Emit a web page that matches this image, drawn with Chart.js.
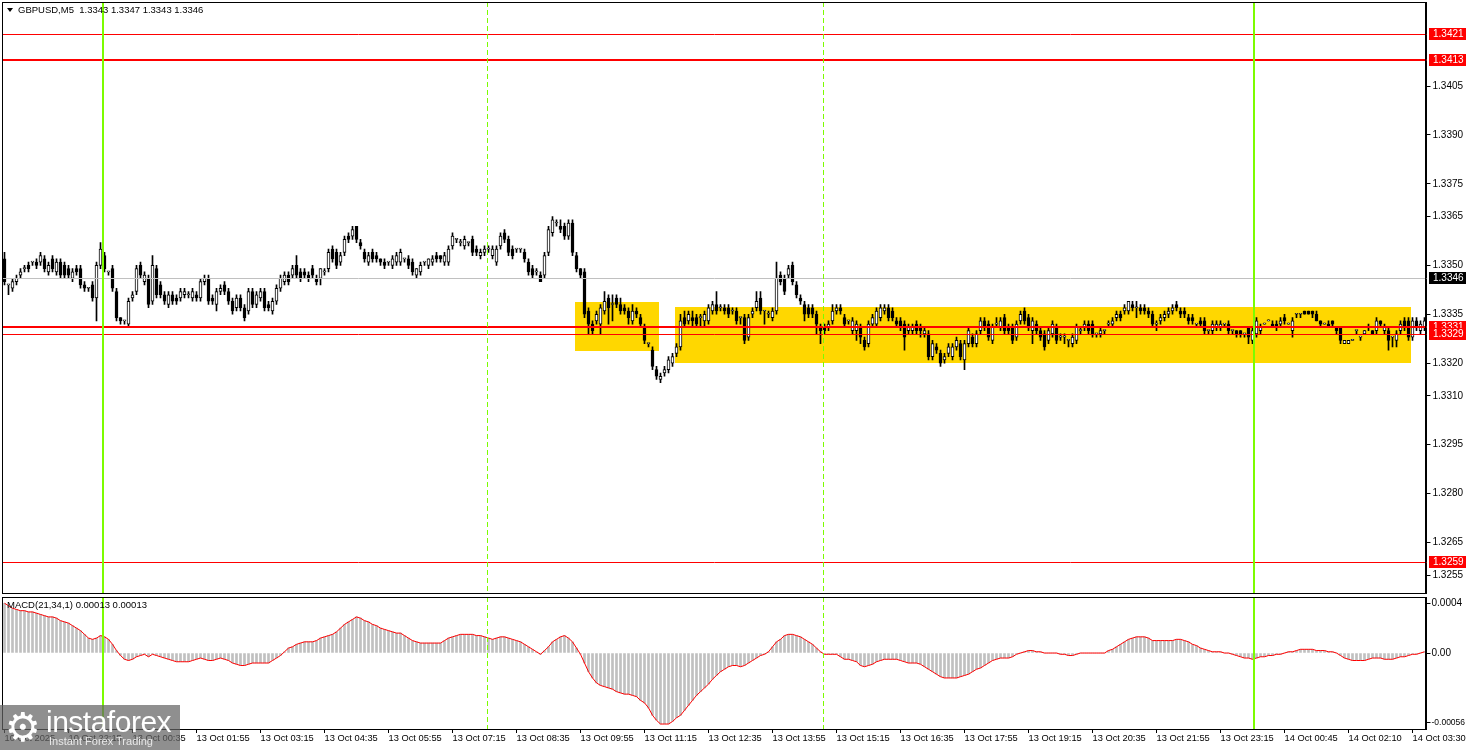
<!DOCTYPE html>
<html>
<head>
<meta charset="utf-8">
<script src="https://cdn.jsdelivr.net/npm/chart.js@4.4.1/dist/chart.umd.min.js"></script>
<style>
  html, body { margin: 0; padding: 0; background: #fff; }
  #wrap { position: relative; width: 1468px; height: 750px; overflow: hidden; }
  #priceChart { position: absolute; left: 0; top: 0; }
  #macdChart { position: absolute; left: 0; top: 595px; }
  #logo { position: absolute; left: 0; top: 705px; width: 180px; height: 45px; background: rgba(100,100,100,0.72); color: #fff; font-family: "Liberation Sans", Arial, sans-serif; }
  #logo .gear { position: absolute; left: 5px; top: 0px; font-size: 40px; line-height: 44px; font-family: "DejaVu Sans", sans-serif; }
  #logo .brand { position: absolute; left: 46px; top: 1px; font-size: 30px; line-height: 32px; letter-spacing: -0.5px; }
  #logo .tag { position: absolute; left: 49px; top: 30px; font-size: 11px; line-height: 13px; color: #e8e8e8; }
</style>
</head>
<body>
<div id="wrap">
  <canvas id="priceChart" width="1468" height="595"></canvas>
  <canvas id="macdChart" width="1468" height="155"></canvas>
  <div id="logo"><span class="gear">&#9881;</span><span class="brand">instaforex</span><span class="tag">Instant Forex Trading</span></div>
</div>
<script>
// GBPUSD M5 candles (one entry per bar)
const opens = [
  1.3352,1.3344,1.3343,1.3345,1.3347,1.3349,1.3350,1.3351,1.3351,1.3351,
  1.3352,1.3348,1.3352,1.3348,1.3351,1.3350,1.3349,1.3346,1.3349,1.3349,
  1.3344,1.3343,1.3344,1.3340,1.3350,1.3353,1.3348,1.3349,1.3342,1.3334,
  1.3333,1.3332,1.3340,1.3342,1.3350,1.3345,1.3346,1.3339,1.3349,1.3344,
  1.3341,1.3338,1.3341,1.3340,1.3340,1.3341,1.3341,1.3340,1.3341,1.3340,
  1.3345,1.3346,1.3340,1.3338,1.3342,1.3344,1.3342,1.3339,1.3337,1.3340,
  1.3337,1.3336,1.3342,1.3338,1.3340,1.3342,1.3338,1.3336,1.3339,1.3343,
  1.3345,1.3347,1.3347,1.3350,1.3348,1.3348,1.3347,1.3349,1.3346,1.3346,
  1.3348,1.3349,1.3355,1.3354,1.3351,1.3354,1.3359,1.3359,1.3362,1.3357,
  1.3354,1.3351,1.3354,1.3353,1.3352,1.3351,1.3351,1.3350,1.3351,1.3351,
  1.3352,1.3352,1.3351,1.3347,1.3348,1.3351,1.3350,1.3351,1.3353,1.3353,
  1.3351,1.3351,1.3356,1.3358,1.3357,1.3356,1.3357,1.3358,1.3355,1.3353,
  1.3354,1.3355,1.3353,1.3351,1.3356,1.3360,1.3358,1.3355,1.3355,1.3355,
  1.3354,1.3351,1.3349,1.3348,1.3347,1.3347,1.3354,1.3360,1.3363,1.3362,
  1.3362,1.3359,1.3363,1.3353,1.3349,1.3348,1.3336,1.3332,1.3333,1.3332,
  1.3336,1.3340,1.3338,1.3340,1.3338,1.3337,1.3336,1.3333,1.3336,1.3334,
  1.3331,1.3326,1.3324,1.3318,1.3315,1.3317,1.3318,1.3320,1.3323,1.3325,
  1.3334,1.3333,1.3334,1.3334,1.3334,1.3333,1.3333,1.3336,1.3338,1.3337,
  1.3337,1.3337,1.3336,1.3336,1.3334,1.3334,1.3328,1.3335,1.3337,1.3340,
  1.3336,1.3335,1.3334,1.3336,1.3347,1.3346,1.3347,1.3350,1.3344,1.3340,
  1.3338,1.3337,1.3337,1.3335,1.3331,1.3331,1.3331,1.3333,1.3336,1.3337,
  1.3334,1.3333,1.3330,1.3330,1.3331,1.3327,1.3326,1.3332,1.3332,1.3334,
  1.3336,1.3337,1.3336,1.3333,1.3333,1.3332,1.3330,1.3330,1.3332,1.3331,
  1.3329,1.3329,1.3322,1.3325,1.3323,1.3321,1.3323,1.3322,1.3325,1.3326,
  1.3321,1.3326,1.3328,1.3326,1.3330,1.3333,1.3332,1.3327,1.3332,1.3331,
  1.3334,1.3331,1.3331,1.3328,1.3333,1.3336,1.3334,1.3330,1.3332,1.3330,
  1.3329,1.3327,1.3329,1.3331,1.3328,1.3328,1.3327,1.3326,1.3327,1.3330,
  1.3331,1.3332,1.3332,1.3329,1.3329,1.3330,1.3332,1.3332,1.3334,1.3335,
  1.3336,1.3336,1.3338,1.3337,1.3337,1.3337,1.3336,1.3335,1.3332,1.3333,
  1.3334,1.3335,1.3336,1.3338,1.3336,1.3336,1.3334,1.3334,1.3332,1.3333,
  1.3333,1.3330,1.3330,1.3331,1.3331,1.3332,1.3332,1.3330,1.3330,1.3330,
  1.3329,1.3331,1.3327,1.3329,1.3330,1.3332,1.3333,1.3332,1.3332,1.3332,
  1.3334,1.3332,1.3330,1.3335,1.3335,1.3336,1.3336,1.3336,1.3335,1.3333,
  1.3332,1.3332,1.3333,1.3331,1.3331,1.3326,1.3326,1.3327,1.3330,1.3328,
  1.3329,1.3331,1.3330,1.3330,1.3333,1.3330,1.3330,1.3328,1.3327,1.3330,
  1.3333,1.3333,1.3328,1.3333,1.3330,1.3331
];
const highs = [
  1.3354,1.3344,1.3346,1.3347,1.3349,1.3350,1.3351,1.3351,1.3352,1.3354,
  1.3353,1.3351,1.3353,1.3352,1.3352,1.3351,1.3350,1.3349,1.3350,1.3350,
  1.3345,1.3343,1.3345,1.3351,1.3357,1.3354,1.3348,1.3350,1.3343,1.3334,
  1.3333,1.3340,1.3342,1.3350,1.3351,1.3348,1.3347,1.3353,1.3350,1.3345,
  1.3342,1.3342,1.3342,1.3341,1.3343,1.3343,1.3342,1.3343,1.3342,1.3346,
  1.3347,1.3347,1.3341,1.3343,1.3344,1.3345,1.3343,1.3340,1.3341,1.3341,
  1.3338,1.3343,1.3343,1.3342,1.3343,1.3343,1.3339,1.3340,1.3344,1.3347,
  1.3348,1.3348,1.3350,1.3353,1.3349,1.3349,1.3348,1.3350,1.3347,1.3349,
  1.3349,1.3355,1.3356,1.3355,1.3354,1.3359,1.3360,1.3362,1.3362,1.3358,
  1.3355,1.3354,1.3355,1.3354,1.3352,1.3352,1.3351,1.3353,1.3354,1.3355,
  1.3352,1.3353,1.3352,1.3349,1.3351,1.3351,1.3352,1.3353,1.3354,1.3353,
  1.3354,1.3356,1.3360,1.3358,1.3358,1.3359,1.3357,1.3359,1.3356,1.3355,
  1.3356,1.3356,1.3356,1.3356,1.3360,1.3361,1.3359,1.3356,1.3355,1.3355,
  1.3355,1.3352,1.3350,1.3349,1.3348,1.3354,1.3362,1.3365,1.3364,1.3364,
  1.3363,1.3364,1.3364,1.3354,1.3349,1.3349,1.3337,1.3333,1.3336,1.3338,
  1.3342,1.3341,1.3341,1.3341,1.3340,1.3338,1.3337,1.3338,1.3337,1.3335,
  1.3332,1.3326,1.3325,1.3319,1.3317,1.3319,1.3322,1.3323,1.3326,1.3335,
  1.3336,1.3336,1.3336,1.3335,1.3335,1.3336,1.3338,1.3339,1.3342,1.3338,
  1.3338,1.3338,1.3337,1.3337,1.3334,1.3335,1.3335,1.3337,1.3342,1.3342,
  1.3336,1.3336,1.3337,1.3351,1.3348,1.3347,1.3350,1.3351,1.3345,1.3341,
  1.3339,1.3338,1.3338,1.3336,1.3332,1.3332,1.3333,1.3338,1.3338,1.3338,
  1.3335,1.3333,1.3334,1.3333,1.3332,1.3328,1.3333,1.3335,1.3337,1.3338,
  1.3338,1.3338,1.3337,1.3334,1.3334,1.3333,1.3332,1.3332,1.3333,1.3332,
  1.3331,1.3330,1.3327,1.3326,1.3324,1.3323,1.3326,1.3326,1.3328,1.3327,
  1.3327,1.3331,1.3329,1.3330,1.3334,1.3334,1.3333,1.3332,1.3334,1.3334,
  1.3335,1.3332,1.3332,1.3333,1.3336,1.3337,1.3335,1.3334,1.3333,1.3331,
  1.3330,1.3331,1.3333,1.3332,1.3329,1.3329,1.3327,1.3329,1.3332,1.3331,
  1.3333,1.3333,1.3333,1.3329,1.3331,1.3330,1.3333,1.3334,1.3336,1.3336,
  1.3338,1.3339,1.3339,1.3339,1.3338,1.3338,1.3337,1.3336,1.3333,1.3335,
  1.3336,1.3337,1.3338,1.3339,1.3337,1.3337,1.3335,1.3335,1.3332,1.3334,
  1.3334,1.3330,1.3333,1.3333,1.3333,1.3332,1.3333,1.3330,1.3330,1.3330,
  1.3329,1.3331,1.3331,1.3334,1.3332,1.3332,1.3333,1.3333,1.3333,1.3334,
  1.3335,1.3332,1.3334,1.3335,1.3335,1.3336,1.3336,1.3336,1.3336,1.3333,
  1.3332,1.3333,1.3333,1.3331,1.3331,1.3327,1.3327,1.3327,1.3330,1.3328,
  1.3330,1.3332,1.3330,1.3334,1.3333,1.3332,1.3331,1.3328,1.3330,1.3333,
  1.3334,1.3334,1.3334,1.3334,1.3333,1.3334
];
const lows = [
  1.3344,1.3341,1.3342,1.3344,1.3346,1.3348,1.3348,1.3350,1.3349,1.3350,
  1.3348,1.3347,1.3348,1.3347,1.3346,1.3346,1.3346,1.3345,1.3347,1.3343,
  1.3342,1.3342,1.3339,1.3333,1.3349,1.3348,1.3347,1.3342,1.3333,1.3332,
  1.3332,1.3331,1.3339,1.3341,1.3346,1.3344,1.3337,1.3338,1.3340,1.3340,
  1.3338,1.3337,1.3338,1.3338,1.3339,1.3340,1.3340,1.3339,1.3339,1.3339,
  1.3344,1.3338,1.3338,1.3336,1.3341,1.3341,1.3338,1.3335,1.3336,1.3336,
  1.3333,1.3335,1.3337,1.3337,1.3339,1.3336,1.3336,1.3335,1.3338,1.3342,
  1.3344,1.3344,1.3346,1.3346,1.3345,1.3346,1.3345,1.3346,1.3344,1.3344,
  1.3347,1.3348,1.3351,1.3349,1.3350,1.3353,1.3357,1.3358,1.3357,1.3355,
  1.3351,1.3350,1.3351,1.3351,1.3350,1.3349,1.3350,1.3349,1.3350,1.3350,
  1.3351,1.3349,1.3347,1.3346,1.3347,1.3350,1.3349,1.3350,1.3351,1.3351,
  1.3350,1.3350,1.3355,1.3357,1.3356,1.3355,1.3356,1.3353,1.3353,1.3352,
  1.3353,1.3354,1.3352,1.3350,1.3355,1.3357,1.3353,1.3352,1.3354,1.3354,
  1.3351,1.3347,1.3346,1.3347,1.3345,1.3346,1.3353,1.3359,1.3362,1.3360,
  1.3358,1.3358,1.3353,1.3348,1.3346,1.3334,1.3329,1.3329,1.3332,1.3329,
  1.3335,1.3332,1.3333,1.3337,1.3335,1.3335,1.3332,1.3332,1.3334,1.3331,
  1.3326,1.3325,1.3318,1.3315,1.3314,1.3316,1.3317,1.3319,1.3322,1.3324,
  1.3331,1.3332,1.3331,1.3331,1.3331,1.3331,1.3332,1.3335,1.3335,1.3336,
  1.3335,1.3334,1.3335,1.3332,1.3332,1.3326,1.3327,1.3334,1.3336,1.3335,
  1.3332,1.3334,1.3333,1.3335,1.3344,1.3341,1.3346,1.3344,1.3340,1.3338,
  1.3333,1.3334,1.3334,1.3329,1.3326,1.3329,1.3330,1.3332,1.3335,1.3335,
  1.3331,1.3332,1.3329,1.3327,1.3326,1.3324,1.3325,1.3331,1.3331,1.3333,
  1.3335,1.3333,1.3333,1.3331,1.3330,1.3324,1.3329,1.3329,1.3329,1.3328,
  1.3328,1.3321,1.3321,1.3323,1.3319,1.3320,1.3322,1.3321,1.3324,1.3321,
  1.3318,1.3325,1.3325,1.3325,1.3329,1.3330,1.3327,1.3326,1.3331,1.3330,
  1.3329,1.3329,1.3326,1.3327,1.3332,1.3332,1.3330,1.3326,1.3329,1.3327,
  1.3324,1.3326,1.3328,1.3326,1.3327,1.3326,1.3325,1.3325,1.3326,1.3329,
  1.3330,1.3329,1.3328,1.3328,1.3328,1.3329,1.3331,1.3331,1.3333,1.3333,
  1.3335,1.3335,1.3336,1.3334,1.3335,1.3335,1.3334,1.3331,1.3330,1.3332,
  1.3333,1.3334,1.3335,1.3336,1.3334,1.3334,1.3332,1.3332,1.3331,1.3331,
  1.3329,1.3329,1.3329,1.3330,1.3330,1.3331,1.3329,1.3329,1.3328,1.3328,
  1.3328,1.3326,1.3326,1.3328,1.3329,1.3332,1.3333,1.3331,1.3330,1.3331,
  1.3332,1.3332,1.3328,1.3334,1.3334,1.3335,1.3335,1.3334,1.3333,1.3331,
  1.3332,1.3331,1.3331,1.3329,1.3326,1.3326,1.3326,1.3327,1.3329,1.3327,
  1.3329,1.3330,1.3329,1.3329,1.3331,1.3329,1.3324,1.3325,1.3325,1.3329,
  1.3330,1.3327,1.3327,1.3330,1.3329,1.3330
];
const closes = [
  1.3345,1.3344,1.3345,1.3346,1.3348,1.3349,1.3349,1.3351,1.3350,1.3353,
  1.3349,1.3350,1.3349,1.3351,1.3347,1.3347,1.3347,1.3348,1.3348,1.3344,
  1.3343,1.3343,1.3340,1.3350,1.3355,1.3349,1.3348,1.3343,1.3334,1.3333,
  1.3333,1.3339,1.3341,1.3349,1.3347,1.3347,1.3338,1.3350,1.3341,1.3341,
  1.3339,1.3341,1.3339,1.3339,1.3342,1.3342,1.3341,1.3342,1.3340,1.3345,
  1.3346,1.3339,1.3339,1.3342,1.3343,1.3342,1.3339,1.3336,1.3340,1.3337,
  1.3334,1.3342,1.3338,1.3341,1.3342,1.3337,1.3337,1.3339,1.3343,1.3346,
  1.3347,1.3345,1.3349,1.3347,1.3346,1.3347,1.3346,1.3347,1.3345,1.3349,
  1.3348,1.3354,1.3352,1.3350,1.3353,1.3358,1.3358,1.3361,1.3358,1.3356,
  1.3352,1.3353,1.3352,1.3352,1.3351,1.3350,1.3351,1.3352,1.3353,1.3354,
  1.3352,1.3350,1.3348,1.3349,1.3350,1.3351,1.3352,1.3352,1.3352,1.3352,
  1.3353,1.3355,1.3359,1.3358,1.3357,1.3358,1.3357,1.3354,1.3354,1.3354,
  1.3355,1.3355,1.3355,1.3355,1.3359,1.3358,1.3354,1.3353,1.3355,1.3355,
  1.3352,1.3348,1.3347,1.3348,1.3345,1.3353,1.3361,1.3364,1.3363,1.3361,
  1.3359,1.3363,1.3354,1.3349,1.3347,1.3335,1.3332,1.3330,1.3335,1.3337,
  1.3339,1.3337,1.3338,1.3338,1.3336,1.3336,1.3334,1.3336,1.3335,1.3332,
  1.3327,1.3326,1.3319,1.3316,1.3316,1.3318,1.3321,1.3322,1.3325,1.3333,
  1.3332,1.3335,1.3333,1.3332,1.3334,1.3335,1.3337,1.3338,1.3336,1.3337,
  1.3336,1.3335,1.3336,1.3333,1.3334,1.3327,1.3334,1.3336,1.3339,1.3336,
  1.3336,1.3335,1.3336,1.3346,1.3345,1.3342,1.3349,1.3345,1.3341,1.3339,
  1.3335,1.3335,1.3335,1.3332,1.3330,1.3330,1.3332,1.3336,1.3337,1.3336,
  1.3332,1.3333,1.3333,1.3332,1.3328,1.3325,1.3332,1.3334,1.3336,1.3337,
  1.3337,1.3334,1.3334,1.3332,1.3331,1.3328,1.3331,1.3331,1.3330,1.3330,
  1.3330,1.3322,1.3326,1.3324,1.3320,1.3322,1.3325,1.3325,1.3327,1.3322,
  1.3326,1.3330,1.3326,1.3329,1.3333,1.3331,1.3328,1.3331,1.3332,1.3333,
  1.3330,1.3330,1.3327,1.3332,1.3335,1.3333,1.3331,1.3333,1.3330,1.3328,
  1.3325,1.3330,1.3332,1.3327,1.3328,1.3328,1.3327,1.3328,1.3331,1.3330,
  1.3332,1.3330,1.3329,1.3329,1.3330,1.3330,1.3332,1.3333,1.3335,1.3334,
  1.3337,1.3339,1.3337,1.3337,1.3336,1.3336,1.3335,1.3332,1.3332,1.3334,
  1.3335,1.3336,1.3337,1.3337,1.3335,1.3335,1.3333,1.3333,1.3332,1.3332,
  1.3330,1.3330,1.3332,1.3332,1.3332,1.3332,1.3330,1.3330,1.3329,1.3329,
  1.3329,1.3328,1.3330,1.3333,1.3331,1.3332,1.3333,1.3331,1.3331,1.3333,
  1.3333,1.3332,1.3333,1.3335,1.3335,1.3335,1.3335,1.3335,1.3333,1.3332,
  1.3332,1.3331,1.3332,1.3330,1.3327,1.3327,1.3327,1.3327,1.3330,1.3328,
  1.3330,1.3331,1.3329,1.3333,1.3332,1.3331,1.3327,1.3328,1.3329,1.3332,
  1.3331,1.3328,1.3333,1.3331,1.3332,1.3333
];

// MACD(21,34,1) main value per bar (histogram and signal line coincide)
const macd = [
  0.00040,0.00038,0.00036,0.00035,0.00034,0.00034,0.00033,0.00033,0.00032,0.00031,
  0.00030,0.00029,0.00029,0.00028,0.00026,0.00025,0.00024,0.00022,0.00020,0.00018,
  0.00015,0.00012,0.00011,0.00012,0.00014,0.00013,0.00011,0.00007,0.00002,-0.00002,
  -0.00005,-0.00006,-0.00005,-0.00003,-0.00002,-0.00001,-0.00003,-0.00001,-0.00002,-0.00003,
  -0.00004,-0.00005,-0.00006,-0.00007,-0.00007,-0.00007,-0.00007,-0.00006,-0.00005,-0.00004,
  -0.00005,-0.00006,-0.00006,-0.00005,-0.00004,-0.00005,-0.00006,-0.00008,-0.00009,-0.00010,
  -0.00010,-0.00009,-0.00008,-0.00008,-0.00008,-0.00008,-0.00008,-0.00006,-0.00004,-0.00002,
  0.00001,0.00004,0.00005,0.00007,0.00008,0.00009,0.00009,0.00009,0.00010,0.00012,
  0.00013,0.00014,0.00015,0.00017,0.00020,0.00023,0.00025,0.00027,0.00029,0.00028,
  0.00026,0.00025,0.00023,0.00022,0.00020,0.00019,0.00018,0.00017,0.00016,0.00016,
  0.00014,0.00012,0.00010,0.00009,0.00008,0.00008,0.00008,0.00008,0.00008,0.00008,
  0.00010,0.00012,0.00013,0.00014,0.00015,0.00015,0.00015,0.00015,0.00014,0.00014,
  0.00013,0.00012,0.00011,0.00012,0.00013,0.00013,0.00012,0.00011,0.00010,0.00009,
  0.00007,0.00005,0.00003,0.00001,-0.00001,0.00002,0.00005,0.00009,0.00011,0.00013,
  0.00014,0.00012,0.00009,0.00004,-0.00001,-0.00008,-0.00015,-0.00020,-0.00024,-0.00026,
  -0.00027,-0.00028,-0.00029,-0.00031,-0.00032,-0.00033,-0.00033,-0.00034,-0.00035,-0.00038,
  -0.00040,-0.00044,-0.00050,-0.00054,-0.00057,-0.00057,-0.00057,-0.00055,-0.00052,-0.00050,
  -0.00046,-0.00042,-0.00038,-0.00034,-0.00031,-0.00028,-0.00025,-0.00021,-0.00018,-0.00015,
  -0.00013,-0.00011,-0.00010,-0.00010,-0.00011,-0.00010,-0.00008,-0.00006,-0.00004,-0.00002,
  -0.00001,0.00001,0.00005,0.00009,0.00011,0.00014,0.00015,0.00015,0.00014,0.00013,
  0.00011,0.00009,0.00007,0.00004,0.00001,-0.00001,-0.00001,-0.00001,-0.00001,-0.00003,
  -0.00005,-0.00005,-0.00006,-0.00007,-0.00010,-0.00011,-0.00010,-0.00009,-0.00007,-0.00006,
  -0.00005,-0.00005,-0.00005,-0.00005,-0.00006,-0.00007,-0.00008,-0.00008,-0.00008,-0.00009,
  -0.00011,-0.00013,-0.00015,-0.00017,-0.00019,-0.00020,-0.00020,-0.00020,-0.00020,-0.00019,
  -0.00018,-0.00017,-0.00015,-0.00013,-0.00012,-0.00010,-0.00008,-0.00006,-0.00005,-0.00004,
  -0.00004,-0.00004,-0.00003,-0.00001,0.00000,0.00001,0.00002,0.00002,0.00001,0.00001,
  0.00000,0.00000,0.00000,0.00000,-0.00001,-0.00001,-0.00002,-0.00002,-0.00001,0.00000,
  0.00000,0.00000,0.00000,0.00000,0.00000,0.00000,0.00002,0.00003,0.00005,0.00007,
  0.00009,0.00011,0.00012,0.00013,0.00013,0.00013,0.00012,0.00010,0.00010,0.00010,
  0.00010,0.00010,0.00010,0.00011,0.00011,0.00010,0.00009,0.00007,0.00006,0.00004,
  0.00003,0.00002,0.00001,0.00001,0.00001,0.00000,0.00000,-0.00001,-0.00002,-0.00003,
  -0.00004,-0.00004,-0.00005,-0.00004,-0.00003,-0.00003,-0.00002,-0.00002,-0.00001,-0.00001,
  0.00000,0.00001,0.00001,0.00002,0.00003,0.00003,0.00003,0.00003,0.00002,0.00002,
  0.00002,0.00001,0.00001,0.00000,-0.00002,-0.00004,-0.00005,-0.00006,-0.00006,-0.00006,
  -0.00006,-0.00005,-0.00004,-0.00004,-0.00004,-0.00005,-0.00005,-0.00005,-0.00004,-0.00003,
  -0.00003,-0.00002,-0.00001,-0.00001,0.00000,0.00001
];

// time axis: one label every 16 bars
const tickEvery = 16;
const timeLabels = ['10 Oct 2025', '10 Oct 22:15', '13 Oct 00:35', '13 Oct 01:55', '13 Oct 03:15',
  '13 Oct 04:35', '13 Oct 05:55', '13 Oct 07:15', '13 Oct 08:35', '13 Oct 09:55', '13 Oct 11:15',
  '13 Oct 12:35', '13 Oct 13:55', '13 Oct 15:15', '13 Oct 16:35', '13 Oct 17:55', '13 Oct 19:15',
  '13 Oct 20:35', '13 Oct 21:55', '13 Oct 23:15', '14 Oct 00:45', '14 Oct 02:10', '14 Oct 03:30'];

const priceTicks = [1.3405, 1.3390, 1.3375, 1.3365, 1.3350, 1.3335, 1.3320, 1.3310, 1.3295, 1.3280, 1.3265, 1.3255];
const macdTicks = [0.0004, 0, -0.00056];
const macdTickText = ['0.0004', '0.00', '-0.00056'];

// horizontal levels (price) and vertical markers (bar position)
const levelPrices = [1.3421, 1.3413, 1.3346, 1.3331, 1.3329, 1.3259];
const solidMarks = [24.6, 312.4];
const dashedMarks = [120.6, 204.6];

// consolidation boxes
const zoneStart = [142.6, 167.6];
const zoneEnd = [163.6, 351.6];
const zoneTop = [1.33388, 1.33371];
const zoneBottom = [1.33238, 1.33201];

const headerText = 'GBPUSD,M5  1.3343 1.3347 1.3343 1.3346';
const macdText = 'MACD(21,34,1) 0.00013 0.00013';

// ---- styling ----
const levelStyle = [
  { line: '#ff0000', width: 1, badge: '#ff0000' },
  { line: '#ff0000', width: 2, badge: '#ff0000' },
  { line: '#c0c0c0', width: 1, badge: '#000000' },
  { line: '#ff0000', width: 2, badge: '#ff0000' },
  { line: '#ff0000', width: 1, badge: '#ff0000' },
  { line: '#ff0000', width: 1, badge: '#ff0000' }
];
const FONT = '"Liberation Sans", Arial, sans-serif';
Chart.defaults.font.family = FONT;
Chart.defaults.font.size = 10;
Chart.defaults.color = '#000';

const barIdx = opens.map((_, i) => i);

const fixAxisWidth = s => { s.width = 41.5; s.paddingTop = 0; s.paddingBottom = 0; };

const drawMarkers = (ctx, x, a) => {
  ctx.save();
  ctx.strokeStyle = '#7cfc00';
  ctx.lineWidth = 2;
  solidMarks.forEach(v => {
    const px = Math.round(x.getPixelForValue(v));
    ctx.beginPath(); ctx.moveTo(px, a.top); ctx.lineTo(px, a.bottom); ctx.stroke();
  });
  ctx.lineWidth = 1;
  ctx.setLineDash([5, 3]);
  dashedMarks.forEach(v => {
    const px = Math.round(x.getPixelForValue(v)) + 0.5;
    ctx.beginPath(); ctx.moveTo(px, a.top); ctx.lineTo(px, a.bottom); ctx.stroke();
  });
  ctx.restore();
};

const drawFrame = (ctx, a) => {
  ctx.save();
  ctx.strokeStyle = '#000';
  ctx.lineWidth = 1;
  ctx.strokeRect(Math.floor(a.left) + 0.5, Math.floor(a.top) + 0.5,
    Math.round(a.right - a.left) - 1, Math.round(a.bottom - a.top));
  ctx.restore();
};

const priceDecor = {
  id: 'priceDecor',
  beforeDatasetsDraw(chart) {
    const { ctx, scales: { x, y } } = chart;
    ctx.save();
    ctx.fillStyle = '#ffd700';
    zoneStart.forEach((s, k) => {
      const x0 = Math.round(x.getPixelForValue(s));
      const x1 = Math.round(x.getPixelForValue(zoneEnd[k]));
      const y0 = Math.round(y.getPixelForValue(zoneTop[k]));
      const y1 = Math.round(y.getPixelForValue(zoneBottom[k]));
      ctx.fillRect(x0, y0, x1 - x0, y1 - y0);
    });
    ctx.restore();
  },
  afterDatasetsDraw(chart) {
    const { ctx, chartArea: a, scales: { x, y } } = chart;
    ctx.save();
    levelPrices.forEach((p, k) => {
      const st = levelStyle[k];
      const py = Math.round(y.getPixelForValue(p)) + (st.width % 2 ? 0.5 : 0);
      ctx.strokeStyle = st.line;
      ctx.lineWidth = st.width;
      ctx.beginPath(); ctx.moveTo(a.left, py); ctx.lineTo(a.right, py); ctx.stroke();
    });
    ctx.restore();
    drawMarkers(ctx, x, a);
    drawFrame(ctx, a);
  },
  afterDraw(chart) {
    const { ctx, chartArea: a, scales: { y } } = chart;
    ctx.save();
    ctx.font = '10px ' + FONT;
    ctx.textBaseline = 'middle';
    levelPrices.forEach((p, k) => {
      const py = Math.round(y.getPixelForValue(p));
      ctx.fillStyle = levelStyle[k].badge;
      ctx.fillRect(Math.ceil(a.right) + 2, py - 6, 37, 12);
      ctx.fillStyle = '#fff';
      ctx.fillText(p.toFixed(4), Math.ceil(a.right) + 6, py + 0.5);
    });
    // symbol header
    ctx.fillStyle = '#000';
    ctx.beginPath(); ctx.moveTo(7, 8); ctx.lineTo(13, 8); ctx.lineTo(10, 12); ctx.closePath(); ctx.fill();
    ctx.font = '9.5px ' + FONT;
    ctx.fillText(headerText, 18, 10.5);
    ctx.restore();
  }
};

const macdDecor = {
  id: 'macdDecor',
  afterDatasetsDraw(chart) {
    const { ctx, chartArea: a, scales: { x } } = chart;
    drawMarkers(ctx, x, a);
    drawFrame(ctx, a);
    ctx.save();
    ctx.font = '9.5px ' + FONT;
    ctx.textBaseline = 'middle';
    ctx.fillStyle = '#000';
    ctx.fillText(macdText, 7, a.top + 8);
    ctx.restore();
  }
};

new Chart(document.getElementById('priceChart'), {
  type: 'bar',
  data: {
    labels: barIdx,
    datasets: [
      {
        label: 'body',
        data: opens.map((o, i) => [Math.min(o, closes[i]), Math.max(o, closes[i])]),
        backgroundColor: c => (closes[c.dataIndex] >= opens[c.dataIndex] ? '#ffffff' : '#000000'),
        borderColor: '#000',
        borderWidth: 1,
        borderSkipped: false,
        barThickness: 3,
        minBarLength: 1,
        grouped: false,
        order: 1
      },
      {
        label: 'wick',
        data: lows.map((l, i) => [l, highs[i]]),
        backgroundColor: '#000',
        borderWidth: 0,
        barThickness: 1,
        minBarLength: 1,
        grouped: false,
        order: 2
      }
    ]
  },
  options: {
    responsive: false,
    animation: false,
    events: [],
    layout: { padding: { left: 2.5, top: 2, right: 0, bottom: 2 } },
    plugins: { legend: { display: false }, tooltip: { enabled: false } },
    scales: {
      x: { display: false, offset: true },
      y: {
        position: 'right',
        min: 1.32495,
        max: 1.34308,
        afterBuildTicks: s => { s.ticks = priceTicks.map(v => ({ value: v })); },
        afterFit: fixAxisWidth,
        ticks: { autoSkip: false, padding: 2, color: '#000', callback: v => Number(v).toFixed(4) },
        grid: { drawOnChartArea: false, drawTicks: true, tickLength: 4, color: '#000' },
        border: { color: '#000' }
      }
    }
  },
  plugins: [priceDecor]
});

new Chart(document.getElementById('macdChart'), {
  type: 'bar',
  data: {
    labels: barIdx,
    datasets: [
      { type: 'line', data: macd, borderColor: '#ff0000', borderWidth: 1, pointRadius: 0, tension: 0, order: 1 },
      { type: 'bar', data: macd, backgroundColor: '#c0c0c0', barThickness: 2, order: 2 }
    ]
  },
  options: {
    responsive: false,
    animation: false,
    events: [],
    layout: { padding: { left: 2.5, top: 2, right: 0, bottom: 0 } },
    plugins: { legend: { display: false }, tooltip: { enabled: false } },
    scales: {
      x: {
        position: 'bottom',
        offset: true,
        afterFit: s => { s.height = 21; s.paddingLeft = 0; s.paddingRight = 0; },
        ticks: {
          autoSkip: false, maxRotation: 0, minRotation: 0, align: 'start', padding: 0, color: '#000',
          font: { size: 9.3 },
          callback: (v, i) => (i % tickEvery === 0 ? timeLabels[i / tickEvery] : null)
        },
        grid: { drawOnChartArea: false, drawTicks: true, tickLength: 4, color: '#000', offset: false },
        border: { color: '#000' }
      },
      y: {
        position: 'right',
        min: -0.00061,
        max: 0.00045,
        afterBuildTicks: s => { s.ticks = macdTicks.map(v => ({ value: v })); },
        afterFit: fixAxisWidth,
        ticks: {
          autoSkip: false, padding: 1, color: '#000',
          font: c => {
            const t = macdTickText[c.index];
            return { family: FONT, size: t && t.length > 6 ? 8.5 : 10 };
          },
          callback: (v, i) => macdTickText[i]
        },
        grid: { drawOnChartArea: false, drawTicks: true, tickLength: 4, color: '#000' },
        border: { color: '#000' }
      }
    }
  },
  plugins: [macdDecor]
});
</script>
</body>
</html>
